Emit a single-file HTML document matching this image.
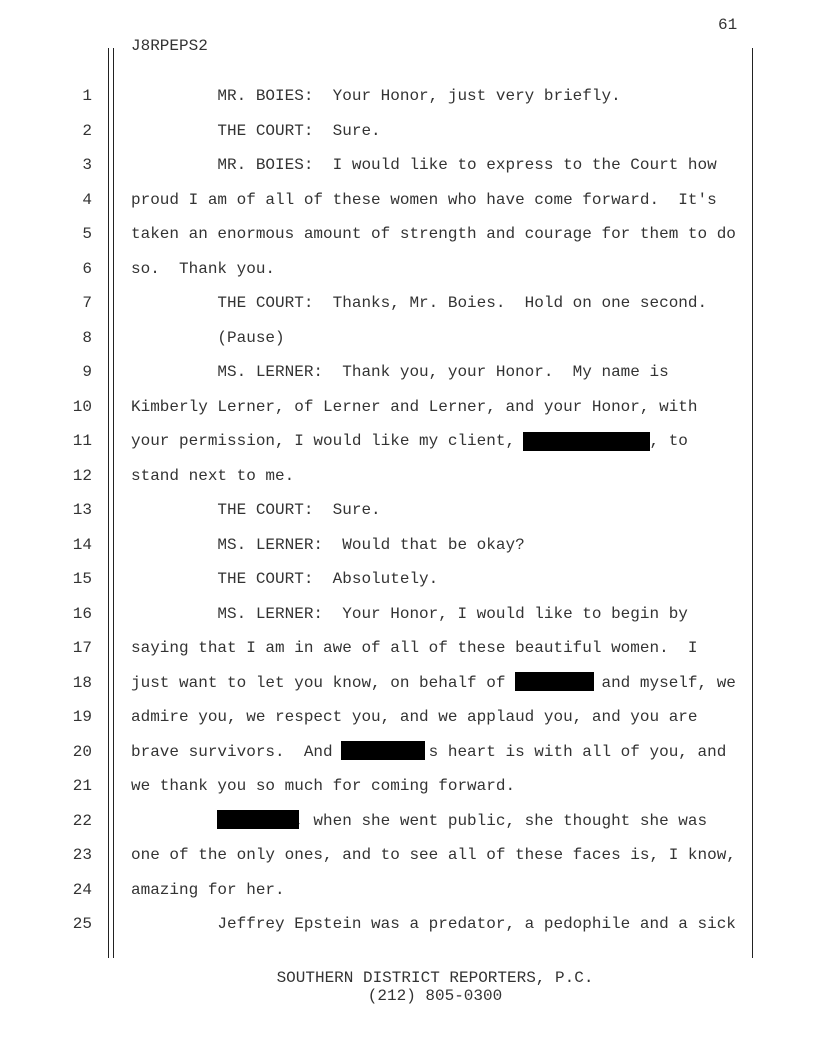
<!DOCTYPE html>
<html><head><meta charset="utf-8"><style>
body{margin:0;width:816px;height:1056px;background:#fff;position:relative;overflow:hidden;font-family:"Liberation Mono",monospace;font-size:16px;color:#333}
.t{position:absolute;white-space:pre;line-height:20px;height:20px}
.n{position:absolute;width:30px;text-align:right;left:62px;line-height:20px}
.v{position:absolute;background:#222;width:1px}
.r{position:absolute;background:#000;height:19px}
</style></head><body>
<div class="v" style="left:108px;top:48px;height:910px"></div>
<div class="v" style="left:113px;top:48px;height:910px"></div>
<div class="v" style="left:752px;top:48px;height:910px"></div>
<div class="t" style="left:718px;top:15px">61</div>
<div class="t" style="left:131px;top:36px">J8RPEPS2</div>

<div class="n" style="top:86px">1</div><div class="t" style="left:131px;top:86px">         MR. BOIES:  Your Honor, just very briefly.</div>
<div class="n" style="top:120.5px">2</div><div class="t" style="left:131px;top:120.5px">         THE COURT:  Sure.</div>
<div class="n" style="top:155px">3</div><div class="t" style="left:131px;top:155px">         MR. BOIES:  I would like to express to the Court how</div>
<div class="n" style="top:189.5px">4</div><div class="t" style="left:131px;top:189.5px">proud I am of all of these women who have come forward.  It's</div>
<div class="n" style="top:224px">5</div><div class="t" style="left:131px;top:224px">taken an enormous amount of strength and courage for them to do</div>
<div class="n" style="top:258.5px">6</div><div class="t" style="left:131px;top:258.5px">so.  Thank you.</div>
<div class="n" style="top:293px">7</div><div class="t" style="left:131px;top:293px">         THE COURT:  Thanks, Mr. Boies.  Hold on one second.</div>
<div class="n" style="top:327.5px">8</div><div class="t" style="left:131px;top:327.5px">         (Pause)</div>
<div class="n" style="top:362px">9</div><div class="t" style="left:131px;top:362px">         MS. LERNER:  Thank you, your Honor.  My name is</div>
<div class="n" style="top:396.5px">10</div><div class="t" style="left:131px;top:396.5px">Kimberly Lerner, of Lerner and Lerner, and your Honor, with</div>
<div class="n" style="top:431px">11</div><div class="t" style="left:131px;top:431px">your permission, I would like my client,              , to</div>
<div class="n" style="top:465.5px">12</div><div class="t" style="left:131px;top:465.5px">stand next to me.</div>
<div class="n" style="top:500px">13</div><div class="t" style="left:131px;top:500px">         THE COURT:  Sure.</div>
<div class="n" style="top:534.5px">14</div><div class="t" style="left:131px;top:534.5px">         MS. LERNER:  Would that be okay?</div>
<div class="n" style="top:569px">15</div><div class="t" style="left:131px;top:569px">         THE COURT:  Absolutely.</div>
<div class="n" style="top:603.5px">16</div><div class="t" style="left:131px;top:603.5px">         MS. LERNER:  Your Honor, I would like to begin by</div>
<div class="n" style="top:638px">17</div><div class="t" style="left:131px;top:638px">saying that I am in awe of all of these beautiful women.  I</div>
<div class="n" style="top:672.5px">18</div><div class="t" style="left:131px;top:672.5px">just want to let you know, on behalf of          and myself, we</div>
<div class="n" style="top:707px">19</div><div class="t" style="left:131px;top:707px">admire you, we respect you, and we applaud you, and you are</div>
<div class="n" style="top:741.5px">20</div><div class="t" style="left:131px;top:741.5px">brave survivors.  And          s heart is with all of you, and</div>
<div class="n" style="top:776px">21</div><div class="t" style="left:131px;top:776px">we thank you so much for coming forward.</div>
<div class="n" style="top:810.5px">22</div><div class="t" style="left:131px;top:810.5px">                 , when she went public, she thought she was</div>
<div class="n" style="top:845px">23</div><div class="t" style="left:131px;top:845px">one of the only ones, and to see all of these faces is, I know,</div>
<div class="n" style="top:879.5px">24</div><div class="t" style="left:131px;top:879.5px">amazing for her.</div>
<div class="n" style="top:914px">25</div><div class="t" style="left:131px;top:914px">         Jeffrey Epstein was a predator, a pedophile and a sick</div>

<div class="r" style="left:523px;top:432px;width:127px"></div>
<div class="r" style="left:515px;top:672px;width:79px"></div>
<div class="r" style="left:341px;top:741px;width:84px"></div>
<div class="r" style="left:217px;top:810px;width:82px"></div>

<div class="t" style="left:0;width:870px;text-align:center;top:968px">SOUTHERN DISTRICT REPORTERS, P.C.</div>
<div class="t" style="left:0;width:870px;text-align:center;top:986px">(212) 805-0300</div>
</body></html>
